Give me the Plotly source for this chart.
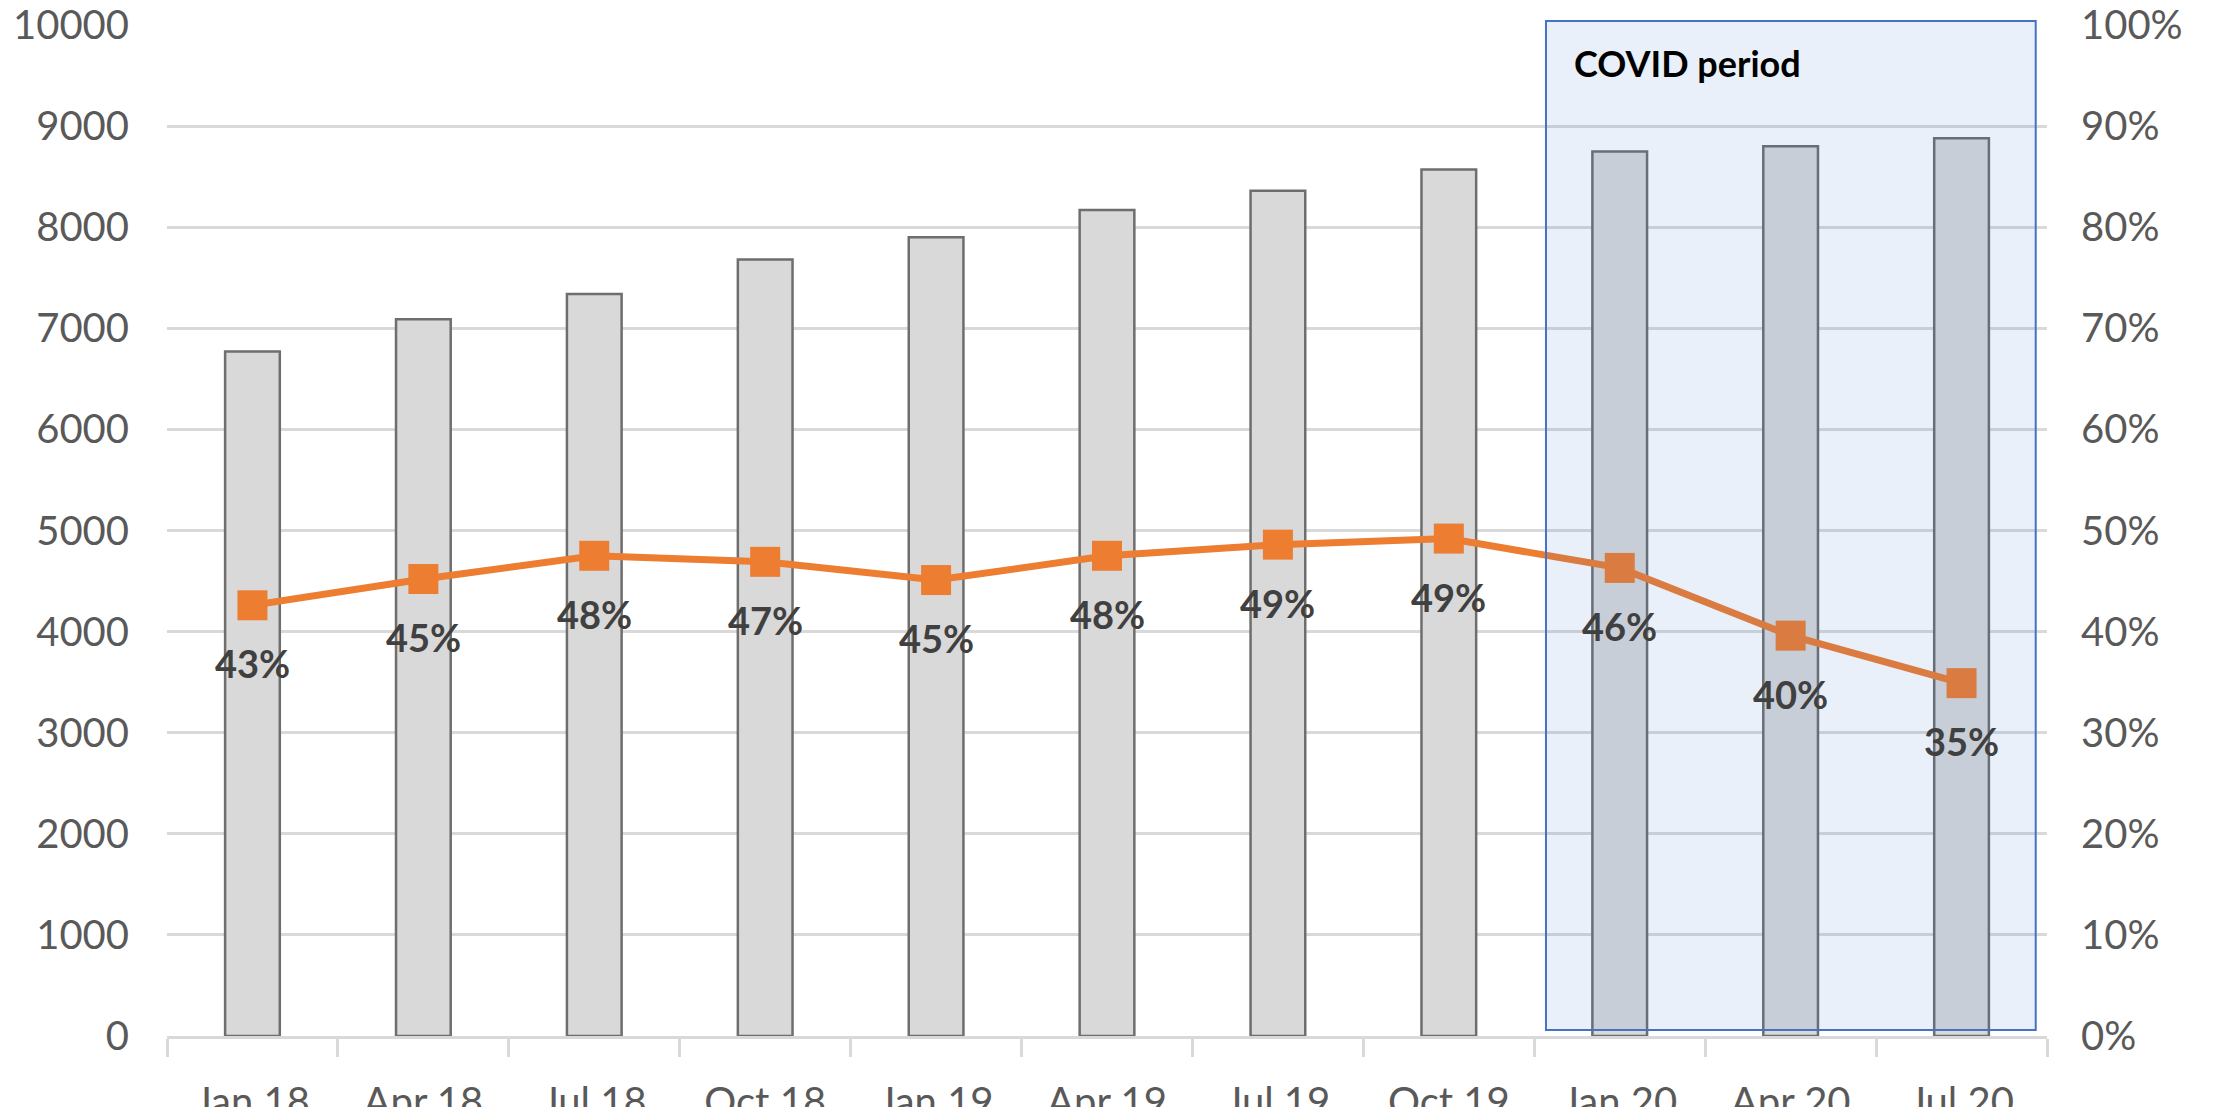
import plotly.graph_objects as go

categories = ["Jan 18", "Apr 18", "Jul 18", "Oct 18", "Jan 19", "Apr 19",
              "Jul 19", "Oct 19", "Jan 20", "Apr 20", "Jul 20"]
bar_values = [6770, 7090, 7340, 7680, 7900, 8170, 8360, 8570, 8750, 8800, 8880]
pct_values = [0.426, 0.452, 0.475, 0.469, 0.451, 0.475, 0.486, 0.492, 0.463, 0.396, 0.349]
pct_labels = ["43%", "45%", "48%", "47%", "45%", "48%", "49%", "49%", "46%", "40%", "35%"]
left_ticks = list(range(0, 10001, 1000))
right_ticks = [i / 10 for i in range(11)]

FONT = "Lato"
TICK_COLOR = "#595959"
GRID = "#d9d9d9"

fig = go.Figure()
fig.add_trace(go.Bar(
    x=categories, y=bar_values,
    marker=dict(color="#d9d9d9", line=dict(color="#6e6e6e", width=2.5)),
    yaxis="y", showlegend=False, hoverinfo="skip",
))
fig.add_trace(go.Scatter(
    x=categories, y=pct_values, mode="lines+markers",
    line=dict(color="#ED7D31", width=7),
    marker=dict(symbol="square", size=30, color="#ED7D31"),
    yaxis="y2", showlegend=False, hoverinfo="skip",
))

annotations = []
for c, v, t in zip(categories, pct_values, pct_labels):
    annotations.append(dict(
        x=c, y=v, xref="x", yref="y2", text=t, showarrow=False,
        yshift=-58, font=dict(family=FONT, size=38, color="#404040", weight="bold"),
    ))
annotations.append(dict(
    x=0.7335, y=0.962, xref="paper", yref="paper", xanchor="left", yanchor="middle",
    text="<b>COVID period</b>", showarrow=False,
    font=dict(family=FONT, size=36, color="#000000"), xshift=26,
))

fig.update_layout(
    width=2216, height=1107,
    margin=dict(l=167, r=169, t=25, b=71),
    paper_bgcolor="white", plot_bgcolor="white",
    bargap=0.68,
    showlegend=False,
    annotations=annotations,
    shapes=[dict(
        type="rect", xref="paper", yref="paper",
        x0=0.7335, x1=0.994, y0=0.006, y1=1.004,
        fillcolor="rgba(68,114,196,0.11)",
        line=dict(color="#4472C4", width=2),
        layer="above",
    )],
    xaxis=dict(
        type="category", categoryorder="array", categoryarray=categories,
        range=[-0.5, len(categories) - 0.5], autorange=False,
        showline=True, linecolor=GRID, linewidth=3,
        ticks="outside", tickson="boundaries", ticklen=18, tickwidth=3, tickcolor=GRID,
        showgrid=False, automargin=False,
        tickfont=dict(family=FONT, size=40, color=TICK_COLOR),
        ticklabelstandoff=29,
    ),
    yaxis=dict(
        range=[0, 10000], tickvals=left_ticks,
        ticktext=[str(v) for v in left_ticks],
        showgrid=True, gridcolor=GRID, gridwidth=3,
        zeroline=False, showline=False, ticks="",
        automargin=False, ticklabelstandoff=37,
        tickfont=dict(family=FONT, size=40, color=TICK_COLOR),
    ),
    yaxis2=dict(
        range=[0, 1], tickvals=right_ticks, tickformat=".0%",
        overlaying="y", side="right",
        showgrid=False, zeroline=False, showline=False, ticks="",
        automargin=False, ticklabelstandoff=33,
        tickfont=dict(family=FONT, size=40, color=TICK_COLOR),
    ),
)

fig.write_html(
    "out.html",
    config={"displayModeBar": False},
    post_script="document.body.style.margin='0';document.body.style.overflow='hidden';",
)
